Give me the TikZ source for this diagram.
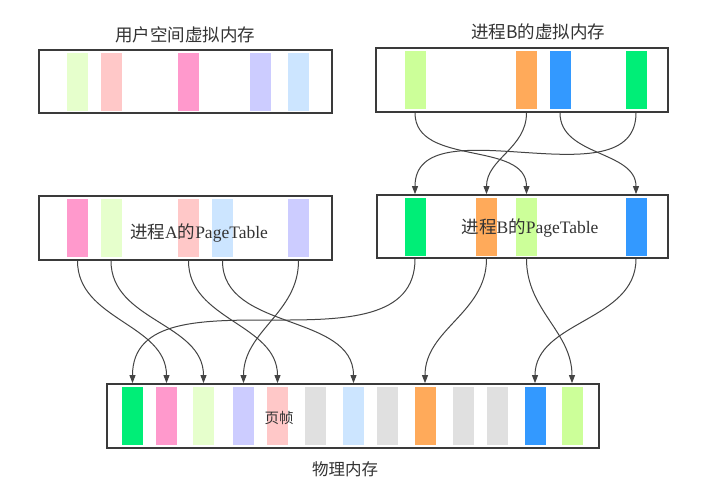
\documentclass[tikz,border=0pt]{standalone}
\usepackage{fontspec}
\setmainfont{Noto Sans CJK SC}
\newfontfamily\lser{Liberation Serif}
\usetikzlibrary{arrows.meta}
\definecolor{cLG}{HTML}{E6FFCC}
\definecolor{cLP}{HTML}{FFC8C8}
\definecolor{cPK}{HTML}{FF99CC}
\definecolor{cLV}{HTML}{CCCCFF}
\definecolor{cLB}{HTML}{CCE5FF}
\definecolor{cBG}{HTML}{CCFF99}
\definecolor{cOR}{HTML}{FFAA5A}
\definecolor{cBL}{HTML}{3399FF}
\definecolor{cGR}{HTML}{00EE77}
\definecolor{cGY}{HTML}{E0E0E0}
\definecolor{cBD}{HTML}{3A3A3A}
\definecolor{cLN}{HTML}{444444}
\definecolor{cTX}{HTML}{333333}
\begin{document}
\begin{tikzpicture}[x=1pt,y=-1pt,
  membox/.style={draw=cBD,line width=1.8pt,fill=white,inner sep=0pt,rectangle},
  bar/.style={rectangle,inner sep=0pt,draw=none,minimum width=21pt,minimum height=58pt},
  ttl/.style={text=cTX,font=\fontsize{17.5}{20}\selectfont,inner sep=0pt},
  conn/.style={draw=cLN,line width=1pt,-{Triangle[length=8pt,width=6pt]}}]
\useasboundingbox[fill=white] (0,0) rectangle (726,493);

% boxes
\node[membox,minimum width=293pt,minimum height=63pt] (uv) at (185.5,81.5) {};
\node[membox,minimum width=292pt,minimum height=64pt] (bv) at (522,80) {};
\node[membox,minimum width=293pt,minimum height=64pt] (pa) at (185.5,228) {};
\node[membox,minimum width=291pt,minimum height=63pt] (pb) at (522.5,226.5) {};
\node[membox,minimum width=492pt,minimum height=64pt] (ph) at (353,416) {};

% titles
\node[ttl] (t1) at (185,35) {用户空间虚拟内存};
\node[ttl] (t2) at (538,32) {进程B的虚拟内存};
\node[ttl,font=\fontsize{16.5}{19}\selectfont] (t5) at (345,469) {物理内存};

% user virtual bars
\node[bar,fill=cLG] (u1) at (77.5,81.5) {};
\node[bar,fill=cLP] (u2) at (111,81.5) {};
\node[bar,fill=cPK] (u3) at (188.5,81.5) {};
\node[bar,fill=cLV] (u4) at (260,81.5) {};
\node[bar,fill=cLB] (u5) at (298.5,81.5) {};

% B virtual bars
\node[bar,fill=cBG] (v1) at (415,80) {};
\node[bar,fill=cOR] (v2) at (526.5,80) {};
\node[bar,fill=cBL] (v3) at (560,80) {};
\node[bar,fill=cGR] (v4) at (636,80) {};

% A page table bars
\node[bar,fill=cPK] (a1) at (77.5,228) {};
\node[bar,fill=cLG] (a2) at (111,228) {};
\node[bar,fill=cLP] (a3) at (188.5,228) {};
\node[bar,fill=cLB] (a4) at (222.5,228) {};
\node[bar,fill=cLV] (a5) at (298.5,228) {};

% B page table bars
\node[bar,fill=cGR] (b1) at (415,226.5) {};
\node[bar,fill=cOR] (b2) at (486.5,226.5) {};
\node[bar,fill=cBG] (b3) at (526.5,226.5) {};
\node[bar,fill=cBL] (b4) at (636,226.5) {};

% physical bars
\node[bar,fill=cGR] (p1) at (132.5,416) {};
\node[bar,fill=cPK] (p2) at (166.5,416) {};
\node[bar,fill=cLG] (p3) at (203.5,416) {};
\node[bar,fill=cLV] (p4) at (243.5,416) {};
\node[bar,fill=cLP] (p5) at (277.5,416) {};
\node[bar,fill=cGY] (p6) at (315,416) {};
\node[bar,fill=cLB] (p7) at (353.5,416) {};
\node[bar,fill=cGY] (p8) at (387.5,416) {};
\node[bar,fill=cOR] (p9) at (425,416) {};
\node[bar,fill=cGY] (p10) at (463.5,416) {};
\node[bar,fill=cGY] (p11) at (497.5,416) {};
\node[bar,fill=cBL] (p12) at (535,416) {};
\node[bar,fill=cBG] (p13) at (572,416) {};

% labels inside
\node[ttl,font=\fontsize{17.5}{20}\selectfont] (la) at (199,233) {进程{\lser A}的{\lser PageTable}};
\node[ttl,font=\fontsize{17.5}{20}\selectfont] (lb) at (530,228) {进程{\lser B}的{\lser PageTable}};
\node[ttl,font=\fontsize{14.5}{17}\selectfont] (lf) at (279,418) {页帧};

% B virtual -> B page table
\draw[conn] (v1 |- bv.south) to[out=-90,in=90] (b3 |- pb.north);
\draw[conn] (v2 |- bv.south) to[out=-90,in=90] (b2 |- pb.north);
\draw[conn] (v3 |- bv.south) to[out=-90,in=90] (b4 |- pb.north);
\draw[conn] (v4 |- bv.south) to[out=-90,in=90] (b1 |- pb.north);

% A page table -> physical
\draw[conn] (a1 |- pa.south) to[out=-90,in=90] (p2 |- ph.north);
\draw[conn] (a2 |- pa.south) to[out=-90,in=90] (p3 |- ph.north);
\draw[conn] (a3 |- pa.south) to[out=-90,in=90] (p5 |- ph.north);
\draw[conn] (a4 |- pa.south) to[out=-90,in=90] (p7 |- ph.north);
\draw[conn] (a5 |- pa.south) to[out=-90,in=90] (p4 |- ph.north);

% B page table -> physical
\draw[conn] (b1 |- pb.south) to[out=-90,in=90] (p1 |- ph.north);
\draw[conn] (b2 |- pb.south) to[out=-90,in=90] (p9 |- ph.north);
\draw[conn] (b3 |- pb.south) to[out=-90,in=90] (p13 |- ph.north);
\draw[conn] (b4 |- pb.south) to[out=-90,in=90] (p12 |- ph.north);
\end{tikzpicture}
\end{document}
